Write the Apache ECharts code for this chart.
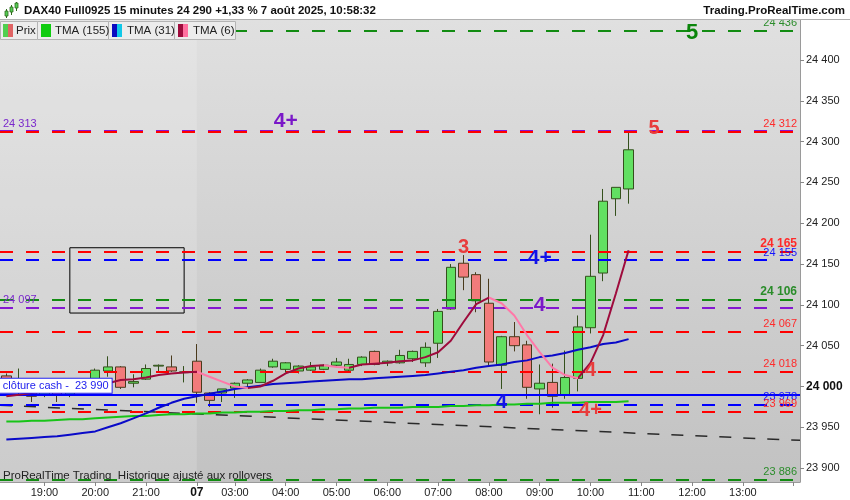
<!DOCTYPE html>
<html><head><meta charset="utf-8">
<script src="https://cdn.jsdelivr.net/npm/echarts@6/dist/echarts.min.js"></script>
<style>html,body{margin:0;padding:0;background:#fff}#c{width:850px;height:500px}</style>
</head><body><div id="c"></div>
<script>
const categories = ['18:15','18:30','18:45','19:00','19:15','19:30','19:45','20:00','20:15','20:30','20:45','21:00','21:15','21:30','21:45',
 '02:15','02:30','02:45','03:00','03:15','03:30','03:45','04:00','04:15','04:30','04:45','05:00','05:15','05:30','05:45',
 '06:00','06:15','06:30','06:45','07:00','07:15','07:30','07:45','08:00','08:15','08:30','08:45','09:00','09:15','09:30','09:45',
 '10:00','10:15','10:30','10:45','11:00','11:15','11:30','11:45','12:00','12:15','12:30','12:45','13:00','13:15','13:30','13:45','14:00'];
const openP  = [24013,23995,24001,23989,23998,23989,23995,24001,24019,24024,24004,24009,24025,24024,24017,
 24031,23992,23992,23998,24004,24005,24024,24021,24019,24020,24021,24026,24020,24027,24043,
 24029,24029,24034,24029,24053,24095,24151,24137,24102,24026,24061,24051,23997,24005,23989,24010,24072,24139,24230,24242];
const closeP = [23996,24003,23988,23996,23990,23995,24002,24020,24024,23999,24006,24022,24026,24019,24018,
 23993,23983,23997,24004,24008,24020,24031,24029,24025,24024,24026,24030,24027,24036,24027,
 24031,24038,24043,24048,24092,24146,24134,24105,24030,24061,24050,23999,24004,23988,24011,24073,24135,24227,24244,24290];
const highP  = [24016,24022,24004,23999,24000,23998,24010,24022,24037,24025,24015,24027,24027,24038,24025,
 24052,23993,23997,24005,24009,24022,24034,24030,24026,24030,24027,24035,24034,24037,24044,
 24032,24045,24044,24054,24095,24150,24161,24140,24132,24062,24079,24056,24027,24028,24044,24087,24186,24242,24244,24311];
const lowP   = [23992,23990,23981,23987,23981,23987,23993,23998,24012,23997,23999,24008,24019,24018,24005,
 23980,23975,23981,23986,23999,24005,24023,24017,24016,24019,24020,24025,24019,24025,24026,
 24025,24028,24030,24024,24035,24094,24118,24091,24026,23997,24043,23985,23966,23974,23985,23994,24065,24129,24209,24224];
const tma155 = [23957,23957,23958,23958,23959,23960,23960,23961,23962,23963,23964,23964,23965,23966,23966,
 23967,23967,23968,23968,23969,23969,23970,23970,23971,23971,23972,23972,23973,23973,23974,
 23974,23974,23975,23975,23975,23976,23976,23977,23977,23978,23978,23979,23979,23980,23980,23980,23981,23981,23981,23982];
const tma31 = [23935,23936,23937,23938,23939,23941,23943,23945,23950,23955,23961,23967,23974,23980,23985,
 23988,23991,23994,23997,23999,24001,24003,24004,24005,24006,24007,24008,24009,24009,24010,
 24011,24012,24013,24014,24016,24018,24020,24023,24025,24027,24030,24032,24036,24038,24041,24045,24048,24052,24054,24058];
const tma6 = [23988,23990,23992,23994,23996,23998,24000,24002,24004,24008,24009,24011,24014,24016,24017,
 24018,24012,24006,24000,23998,24000,24007,24016,24022,24025,24026,24024,24023,24027,24028,
 24029,24031,24032,24036,24042,24056,24079,24101,24109,24102,24087,24063,24042,24023,24014,24010,24029,24063,24114,24167];
const levelValues = [24436, 24313, 24312, 24165, 24155, 24106, 24097, 24067, 24018, 23978, 23969, 23886];
const cashClose = 23990;
const lastPrice = 24290;
const trendStart = 23977, trendEnd = 23934;
const boxFrom = '19:30', boxTo = '21:45', boxHigh = 24170, boxLow = 24090;
const dayStart = '02:15';
const signalTexts  = ['5','5','4+','3','4+','4','4','4','4+'];
const signalCats   = ['12:00','11:15','04:00','07:30','09:00','09:00','08:15','10:00','10:00'];
const signalPrices = [24433,24316,24325,24170,24157,24099,23980,24020,23971];
const yTicks = [23900,23950,24000,24050,24100,24150,24200,24250,24300,24350,24400];
const xTickCats  = ['19:00','20:00','21:00','02:15','03:00','04:00','05:00','06:00','07:00','08:00','09:00','10:00','11:00','12:00','13:00','14:00'];
const xTickTexts = ['19:00','20:00','21:00','07','03:00','04:00','05:00','06:00','07:00','08:00','09:00','10:00','11:00','12:00','13:00',''];

// ---- styles ----
const FONT = '"Liberation Sans", Arial, sans-serif';
const COL  = {green:'#128c12', red:'#ff0000', blue:'#0000ff', purple:'#8418d0'};
const LCOL = {green:'#2a8c2a', red:'#ff2a2a', blue:'#1414ff', purple:'#7a28cc'};
const levelStyles = [
 {c:'green'}, {c:'purple', left:true}, {c:'red'}, {c:'red', bold:true}, {c:'blue'}, {c:'green', bold:true},
 {c:'purple', left:true}, {c:'red'}, {c:'red'}, {c:'blue'}, {c:'red'}, {c:'green'}];
const signalColors = ['#0a850a','#e83c3c','#7a18c8','#e83c3c','#1212e8','#7a18c8','#1212e8','#e83c3c','#e83c3c'];
const signalSizes  = [22,20,21,20,21,21,20,20,20];

const fmt = v => String(v).replace(/\B(?=(\d{3})+(?!\d))/g, ' ');

const levelLines = levelValues.map((v, i) => {
  const s = levelStyles[i];
  return {
    yAxis: v,
    lineStyle: {color: COL[s.c], width: 2, type: [13, 13]},
    label: {show: true, position: s.left ? 'insideStartTop' : 'insideEndTop', formatter: fmt(v),
      color: LCOL[s.c], fontSize: s.bold ? 12 : 11, fontWeight: s.bold ? 'bold' : 'normal', fontFamily: FONT, distance: [3, 2]}
  };
});
levelLines.push({
  yAxis: cashClose,
  lineStyle: {color: '#0000ff', width: 2, type: 'solid'},
  label: {show: false}
});

// falling segments of TMA(6)
const falling = [];
for (let i = 0; i < tma6.length - 1; i++) {
  if (tma6[i + 1] < tma6[i]) {
    if (falling.length && falling[falling.length - 1][1] === i) falling[falling.length - 1][1] = i + 1;
    else falling.push([i, i + 1]);
  }
}

const candles = openP.map((o, i) => [o, closeP[i], lowP[i], highP[i]]);

const chart = echarts.init(document.getElementById('c'), null, {renderer: 'canvas'});
const option = {
  animation: false,
  textStyle: {fontFamily: FONT},
  grid: {left: 0, right: 50, top: 20, bottom: 18, show: true, borderWidth: 0, containLabel: false, outerBoundsMode: 'none',
    backgroundColor: {type: 'linear', x: 0, y: 0, x2: 0, y2: 1,
      colorStops: [{offset: 0, color: '#e0e0e0'}, {offset: 1, color: '#c2c2c2'}]}},
  xAxis: [{
    type: 'category', data: categories, boundaryGap: true,
    axisLine: {show: true, onZero: false, lineStyle: {color: '#9a9a9a', width: 1}},
    axisTick: {show: true, alignWithLabel: true, length: 4, lineStyle: {color: '#888'},
      interval: (i, v) => xTickCats.includes(v)},
    axisLabel: {show: true, color: '#222', fontSize: 11, fontFamily: FONT, margin: 5,
      interval: (i, v) => { const k = xTickCats.indexOf(v); return k >= 0 && xTickTexts[k] !== ''; },
      formatter: v => { const k = xTickCats.indexOf(v); const t = k >= 0 ? xTickTexts[k] : ''; return v === dayStart ? '{b|' + t + '}' : t; },
      rich: {b: {fontWeight: 'bold', fontSize: 12, color: '#111', fontFamily: FONT}}},
    splitLine: {show: false}
  }, {
    type: 'value', min: -0.5, max: categories.length - 0.5, show: false,
    axisLine: {show: false, onZero: false}
  }],
  yAxis: {
    type: 'value', position: 'right', min: 23883, max: 24449, scale: true,
    axisLine: {show: true, onZero: false, lineStyle: {color: '#9a9a9a'}},
    axisTick: {show: true, length: 4, customValues: yTicks, lineStyle: {color: '#888'}},
    axisLabel: {show: true, customValues: yTicks, color: '#222', fontSize: 11, fontFamily: FONT, margin: 6,
      formatter: v => v === 24000 ? '{b|' + fmt(v) + '}' : fmt(v),
      rich: {b: {fontWeight: 'bold', fontSize: 12, color: '#111', fontFamily: FONT}}},
    splitLine: {show: false}
  },
  visualMap: [{
    type: 'piecewise', show: false, seriesIndex: 5, dimension: 0,
    pieces: falling.map(p => ({gte: p[0], lte: p[1], color: '#ff78a8'})),
    outOfRange: {color: '#9e0b3c'}
  }],
  series: [
    { // 0 day shading
      type: 'line', xAxisIndex: 1, data: [], z: 1, silent: true,
      markArea: {silent: true, itemStyle: {color: 'rgba(255,255,255,0.16)'},
        data: [[{xAxis: -0.5}, {xAxis: categories.indexOf(dayStart)}]]}
    },
    { // 1 candles
      type: 'candlestick', data: candles, barWidth: 10, z: 2,
      itemStyle: {color: '#62e062', color0: '#f27b7b', borderColor: '#34501c', borderColor0: '#4a3a1c', borderWidth: 1},
      markArea: {silent: true, itemStyle: {color: 'rgba(0,0,0,0)', borderColor: '#000', borderWidth: 1},
        data: [[{coord: [boxFrom, boxHigh]}, {coord: [boxTo, boxLow]}]]}
    },
    { // 2 trend line
      type: 'line', xAxisIndex: 1, data: [[-0.5, trendStart], [categories.length - 0.5, trendEnd]],
      symbol: 'none', silent: true, z: 4, lineStyle: {color: '#2a2a2a', width: 1.5, type: [12, 12]}
    },
    { type: 'line', data: tma155, symbol: 'none', silent: true, z: 5, lineStyle: {color: '#18c418', width: 2} },
    { type: 'line', data: tma31, symbol: 'none', silent: true, z: 5, lineStyle: {color: '#0a0ac8', width: 2} },
    { type: 'line', data: tma6, symbol: 'none', silent: true, z: 6, lineStyle: {width: 2} },
    { // 6 levels
      type: 'line', data: [], z: 8, silent: true,
      markLine: {silent: true, symbol: ['none', 'none'], animation: false, data: levelLines}
    },
    { // 7 signals
      type: 'scatter', z: 9, symbolSize: 1, silent: true, itemStyle: {color: 'rgba(0,0,0,0)', opacity: 1},
      data: signalTexts.map((t, i) => ({name: t, value: [signalCats[i], signalPrices[i]],
        label: {color: signalColors[i], fontSize: signalSizes[i]}})),
      label: {show: true, position: 'inside', formatter: p => p.name, fontWeight: 'bold', fontFamily: FONT, opacity: 1}
    },
    { // 8 price tag
      type: 'line', data: [], z: 10, silent: true,
      markLine: {silent: true, symbol: ['none', 'none'], animation: false,
        data: [{yAxis: lastPrice, lineStyle: {opacity: 0, width: 0},
          label: {show: true, position: 'end', formatter: fmt(lastPrice), color: '#000', fontSize: 11, fontFamily: FONT,
            backgroundColor: '#ffcc00', borderColor: '#c9a100', borderWidth: 1, padding: [2, 3, 1, 3], distance: 3}}]}
    },
    { // 9 cash close label
      type: 'scatter', z: 11, symbolSize: 1, silent: true, itemStyle: {color: 'rgba(0,0,0,0)', opacity: 1},
      data: [{name: 'clôture cash -  ' + fmt(cashClose), value: [categories[0], cashClose]}],
      label: {show: true, position: [-6, -15.5], formatter: p => p.name, color: '#2222ee', fontSize: 11, fontFamily: FONT,
        backgroundColor: '#ffffff', borderColor: '#2222ee', borderWidth: 1, padding: [2, 3, 1, 3], opacity: 1}
    }
  ],
  graphic: [
    {type: 'rect', shape: {x: 0, y: 0, width: 850, height: 20}, style: {fill: '#ffffff'}, z: 100, silent: true},
    {type: 'line', shape: {x1: 0, y1: 19.5, x2: 850, y2: 19.5}, style: {stroke: '#b0b0b0', lineWidth: 1}, z: 100, silent: true},
    {type: 'line', shape: {x1: 6.5, y1: 9, x2: 6.5, y2: 18}, style: {stroke: '#2f6a1c', lineWidth: 1}, z: 101},
    {type: 'rect', shape: {x: 5, y: 11, width: 3, height: 5}, style: {fill: '#5c5', stroke: '#2f6a1c', lineWidth: 0.8}, z: 102},
    {type: 'line', shape: {x1: 11.5, y1: 5, x2: 11.5, y2: 15}, style: {stroke: '#2f6a1c', lineWidth: 1}, z: 101},
    {type: 'rect', shape: {x: 10, y: 7, width: 3, height: 5}, style: {fill: '#5c5', stroke: '#2f6a1c', lineWidth: 0.8}, z: 102},
    {type: 'line', shape: {x1: 16.5, y1: 2, x2: 16.5, y2: 11}, style: {stroke: '#2f6a1c', lineWidth: 1}, z: 101},
    {type: 'rect', shape: {x: 15, y: 3, width: 3, height: 5}, style: {fill: '#5c5', stroke: '#2f6a1c', lineWidth: 0.8}, z: 102},
    {type: 'text', x: 24, y: 11, z: 101, style: {text: 'DAX40 Full0925 15 minutes 24 290 +1,33 % 7 août 2025, 10:58:32',
      font: 'bold 11.5px ' + FONT, fill: '#111', align: 'left', verticalAlign: 'middle'}},
    {type: 'text', x: 845, y: 11, z: 101, style: {text: 'Trading.ProRealTime.com',
      font: 'bold 11.5px ' + FONT, fill: '#111', align: 'right', verticalAlign: 'middle'}},
    {type: 'rect', shape: {x: 0.5, y: 21.5, width: 37, height: 18}, style: {fill: '#ececec', stroke: '#b4b4b4'}, z: 100},
    {type: 'rect', shape: {x: 3, y: 24, width: 5, height: 13}, style: {fill: '#4fcf4f'}, z: 101},
    {type: 'rect', shape: {x: 8, y: 24, width: 5, height: 13}, style: {fill: '#e06464'}, z: 101},
    {type: 'text', x: 16, y: 31, z: 101, style: {text: 'Prix', font: '11.5px ' + FONT, fill: '#222', verticalAlign: 'middle'}},
    {type: 'rect', shape: {x: 37.5, y: 21.5, width: 71, height: 18}, style: {fill: '#ececec', stroke: '#b4b4b4'}, z: 100},
    {type: 'rect', shape: {x: 41, y: 24, width: 10, height: 13}, style: {fill: '#10cc10'}, z: 101},
    {type: 'text', x: 55, y: 31, z: 101, style: {text: 'TMA (155)', font: '11.5px ' + FONT, fill: '#222', verticalAlign: 'middle'}},
    {type: 'rect', shape: {x: 108.5, y: 21.5, width: 66, height: 18}, style: {fill: '#ececec', stroke: '#b4b4b4'}, z: 100},
    {type: 'rect', shape: {x: 112, y: 24, width: 5, height: 13}, style: {fill: '#0a0ac0'}, z: 101},
    {type: 'rect', shape: {x: 117, y: 24, width: 5, height: 13}, style: {fill: '#10c8e8'}, z: 101},
    {type: 'text', x: 127, y: 31, z: 101, style: {text: 'TMA (31)', font: '11.5px ' + FONT, fill: '#222', verticalAlign: 'middle'}},
    {type: 'rect', shape: {x: 174.5, y: 21.5, width: 61, height: 18}, style: {fill: '#ececec', stroke: '#b4b4b4'}, z: 100},
    {type: 'rect', shape: {x: 178, y: 24, width: 5, height: 13}, style: {fill: '#9e0b3c'}, z: 101},
    {type: 'rect', shape: {x: 183, y: 24, width: 5, height: 13}, style: {fill: '#ff6f9f'}, z: 101},
    {type: 'text', x: 193, y: 31, z: 101, style: {text: 'TMA (6)', font: '11.5px ' + FONT, fill: '#222', verticalAlign: 'middle'}},
    {type: 'text', x: 3, y: 476, z: 50, style: {text: 'ProRealTime Trading  Historique ajusté aux rollovers',
      font: '11.5px ' + FONT, fill: '#222', verticalAlign: 'middle'}}
  ]
};
chart.setOption(option);
</script>
</body></html>
